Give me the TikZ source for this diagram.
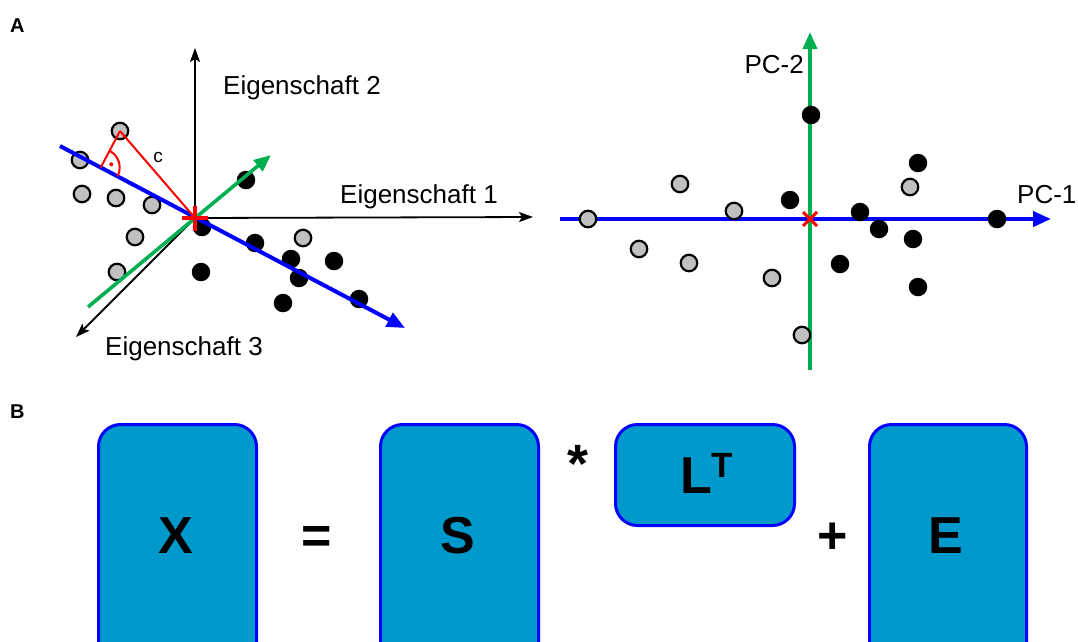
\documentclass[tikz,border=0pt]{standalone}
\usepackage{fontspec}
\setmainfont{Liberation Sans}
\usetikzlibrary{arrows.meta,calc}
\definecolor{ptgrey}{RGB}{192,192,192}
\definecolor{pcblue}{RGB}{0,0,255}
\definecolor{pcgreen}{RGB}{0,176,80}
\definecolor{pcred}{RGB}{255,0,0}
\definecolor{boxfill}{RGB}{0,153,204}
\begin{document}
\begin{tikzpicture}[x=1pt,y=-1pt,
  greypt/.style={circle,draw=black,fill=ptgrey,line width=2.2pt,minimum size=16.5pt,inner sep=0pt},
  blackpt/.style={circle,fill=black,minimum size=18.5pt,inner sep=0pt},
  axis/.style={line width=1.8pt,-{Stealth[length=14pt,width=10pt,inset=3pt]}},
  pcone/.style={pcblue,line width=4pt,-{Triangle[length=18pt,width=15pt]}},
  pctwo/.style={pcgreen,line width=3.6pt,-{Triangle[length=17pt,width=14pt]}},
  redline/.style={pcred,line width=2pt},
  axlabel/.style={inner sep=0pt,font=\fontsize{26}{30}\selectfont},
  panel/.style={inner sep=0pt,font=\fontsize{20}{22}\selectfont\bfseries,anchor=base west},
  matbox/.style={draw=pcblue,line width=3pt,fill=boxfill,rounded corners=22pt,anchor=north west,inner sep=0pt},
  matsym/.style={inner sep=0pt,font=\fontsize{52}{56}\selectfont\bfseries,anchor=base},
]
\useasboundingbox (0,0) rectangle (1078,641);
\clip (0,0) rectangle (1078,641);

% panel letters
\node[panel] (labA) at (10,32) {A};
\node[panel] (labB) at (10,418) {B};

% ---------- original feature space ----------
\coordinate (O) at (195,218);
\coordinate (e1) at (533,217);
\coordinate (e2) at (195,48);
\coordinate (e3) at (76,337);
\coordinate (b1) at (60,146);
\coordinate (b2) at (405,328);
\coordinate (g1) at (88,307);
\coordinate (g2) at (271,155);

\foreach \x/\y [count=\i] in {120/131,80/160,82/194,116/198,152/205,135/237,117/272,303/238}
  \node[greypt] (lg\i) at (\x,\y) {};
\foreach \x/\y [count=\i] in {246/180,202/227,255/243,291/259,334/261,299/278,201/272,283/303,359/299}
  \node[blackpt] (lb\i) at (\x,\y) {};

\draw[axis] (O) -- (e1);
\draw[axis] (O) -- (e2);
\draw[axis] (O) -- (e3);
\draw[pctwo] (g1) -- (g2);
\draw[pcone] (b1) -- (b2);

% distance of a point to the first component
\coordinate (F) at ($(b1)!(lg1.center)!(b2)$);
\draw[redline] (lg1.center) -- (O);
\draw[redline] (lg1.center) -- (F);
\draw[redline] ($(F)+(-62.3:19)$) arc[start angle=-62.3,end angle=27.8,radius=19];
\fill[pcred] ($(F)+(-17:11)$) circle[radius=2pt];
\node[inner sep=0pt,font=\fontsize{19}{22}\selectfont,anchor=base] (clab) at (158,162) {c};

% centre mark
\draw[pcred,line width=4.5pt] ($(O)+(-13,0)$) -- ($(O)+(13,0)$);
\draw[pcred,line width=4.5pt] ($(O)+(0,-12)$) -- ($(O)+(0,13)$);

\node[axlabel,anchor=base west] (t2) at (223,94) {Eigenschaft 2};
\node[axlabel,anchor=base west] (t1) at (340,203) {Eigenschaft 1};
\node[axlabel,anchor=base west] (t3) at (105,355) {Eigenschaft 3};

% ---------- principal component space ----------
\coordinate (P) at (810,219);
\coordinate (p1s) at (560,219);
\coordinate (p1e) at (1051,219);
\coordinate (p2s) at (810,370);
\coordinate (p2e) at (810,32);
\draw[pcone] (p1s) -- (p1e);
\draw[pctwo] (p2s) -- (p2e);

\foreach \x/\y [count=\i] in {588/219,680/184,734/211,639/249,689/263,772/278,802/335,910/187}
  \node[greypt] (rg\i) at (\x,\y) {};
\foreach \x/\y [count=\i] in {811/115,790/200,860/212,879/229,913/239,840/264,918/287,918/163,997/219}
  \node[blackpt] (rb\i) at (\x,\y) {};

\draw[pcred,line width=3pt] ($(P)+(-7,-7)$) -- ($(P)+(7,7)$);
\draw[pcred,line width=3pt] ($(P)+(-7,7)$) -- ($(P)+(7,-7)$);

\node[axlabel,anchor=base east] (pc2) at (804,73) {PC-2};
\node[axlabel,anchor=base west] (pc1) at (1017,203) {PC-1};

% ---------- matrix decomposition ----------
\node[matbox,minimum width=158pt,minimum height=260pt] (Xb) at (97,423) {};
\node[matbox,minimum width=158pt,minimum height=260pt] (Sb) at (379,423) {};
\node[matbox,minimum width=179pt,minimum height=101pt] (Lb) at (614,423) {};
\node[matbox,minimum width=157pt,minimum height=260pt] (Eb) at (868,423) {};

\node[matsym] (Xt) at (176,553) {X};
\node[matsym] (eq) at (317,553) {=};
\node[matsym] (St) at (458,553) {S};
\node[inner sep=0pt,font=\fontsize{54}{56}\selectfont\bfseries] (mul) at (578,464) {*};
\node[matsym,anchor=base west] (Lt) at (680,493) {L\raisebox{16pt}{\fontsize{35}{36}\selectfont T}};
\node[matsym] (pl) at (833,553) {+};
\node[matsym] (Et) at (946,553) {E};
\end{tikzpicture}
\end{document}
